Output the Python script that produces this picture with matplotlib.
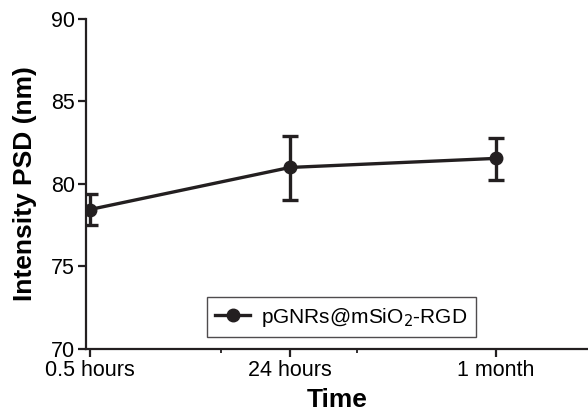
import matplotlib.pyplot as plt
from matplotlib.lines import Line2D
import numpy as np

plt.rcParams['font.family'] = ['Liberation Sans', 'DejaVu Sans']

# Data
time_labels = ["0.5 hours", "24 hours", "1 month"]
psd_mean = [78.45, 81.0, 81.55]
psd_err_low = [0.95, 1.95, 1.3]
psd_err_high = [0.95, 1.9, 1.25]
series_name = "pGNRs@mSiO$_2$-RGD"

x_pos = np.array([0, 1, 2.03])
dark = "#231f20"

fig = plt.figure(figsize=(5.88, 4.12), dpi=100)
ax = fig.add_axes([0.146, 0.153, 0.854, 0.801])

ax.errorbar(x_pos, psd_mean, yerr=[psd_err_low, psd_err_high],
            color=dark, linewidth=2.4, marker="o", markersize=9,
            elinewidth=2.4, capsize=6, capthick=2.4)

ax.set_ylim(70, 90)
ax.set_yticks([70, 75, 80, 85, 90])
ax.set_xlim(-0.02, 2.49)
ax.set_xticks(x_pos)
ax.set_xticklabels(time_labels)
ax.set_xticks([0.655, 1.335], minor=True)

for side in ["top", "right"]:
    ax.spines[side].set_visible(False)
for side in ["left", "bottom"]:
    ax.spines[side].set_linewidth(1.6)
    ax.spines[side].set_color(dark)

ax.tick_params(axis="both", which="major", length=6, width=1.6,
               color=dark, labelsize=15.5, pad=2)
ax.tick_params(axis="x", which="minor", length=3, width=1.3, color=dark)

ax.set_ylabel("Intensity PSD (nm)", fontsize=19, fontweight="bold", labelpad=10)
ax.set_xlabel("Time", fontsize=19, fontweight="bold", labelpad=5)

handle = Line2D([], [], color=dark, linewidth=2.4, marker="o", markersize=9)
leg = ax.legend([handle], [series_name], loc="lower left",
                bbox_to_anchor=(0.22, 0.005), fontsize=15,
                frameon=True, fancybox=False, edgecolor=dark,
                handlelength=1.7, borderpad=0.4, handletextpad=0.5)
leg.get_frame().set_linewidth(1.0)

plt.savefig("out.png", dpi=100)
plt.close()
